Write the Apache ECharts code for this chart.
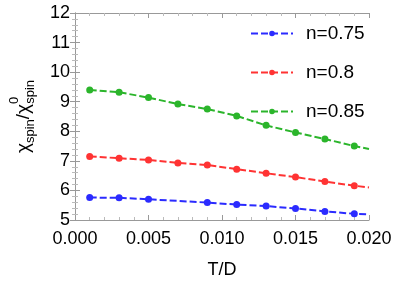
<!DOCTYPE html>
<html><head><meta charset="utf-8">
<script src="https://cdn.jsdelivr.net/npm/echarts@6/dist/echarts.min.js"></script>
<style>html,body{margin:0;padding:0;background:#fff}#c{width:395px;height:284px}</style>
</head><body><div id="c"></div>
<script>
var seriesNames = ['n=0.75', 'n=0.8', 'n=0.85'];
var xBlue = [0.001, 0.003, 0.005, 0.009, 0.011, 0.013, 0.015, 0.017, 0.019, 0.020];
var yBlue = [5.76, 5.75, 5.70, 5.59, 5.52, 5.47, 5.39, 5.29, 5.21, 5.19];
var xRed = [0.001, 0.003, 0.005, 0.007, 0.009, 0.011, 0.013, 0.015, 0.017, 0.019, 0.020];
var yRed = [7.15, 7.09, 7.03, 6.93, 6.86, 6.72, 6.58, 6.45, 6.30, 6.16, 6.10];
var xGreen = [0.001, 0.003, 0.005, 0.007, 0.009, 0.011, 0.013, 0.015, 0.017, 0.019, 0.020];
var yGreen = [9.40, 9.32, 9.14, 8.92, 8.75, 8.52, 8.20, 7.96, 7.74, 7.50, 7.40];
var xTicks = ['0.000', '0.005', '0.010', '0.015', '0.020'];
var colors = ['#2b2bff', '#ff3333', '#2bb52b'];

function mk(xs, ys) {
  return xs.map(function (x, i) {
    // last point is the end of the dashed curve at the frame edge (no marker)
    if (i === xs.length - 1) return { value: [x, ys[i]], symbol: 'none' };
    return [x, ys[i]];
  });
}
var font = 'Liberation Sans, Arial, sans-serif';
var chart = echarts.init(document.getElementById('c'), null, { renderer: 'canvas' });
var frameLine = { show: true, lineStyle: { color: '#999', width: 1 } };
function xAx(pos, labels) {
  return {
    type: 'value', position: pos, min: 0, max: 0.02, interval: 0.005,
    axisLine: frameLine,
    axisTick: { show: true, inside: true, length: 5, lineStyle: { color: '#999' } },
    minorTick: { show: true, splitNumber: 5, length: 3, lineStyle: { color: '#bbb' } },
    splitLine: { show: false },
    axisLabel: labels ? { show: true, color: '#000', fontSize: 18, fontFamily: font, margin: 10,
      formatter: function (v) { return xTicks[Math.round(v / 0.005)]; } } : { show: false },
    name: labels ? 'T/D' : '', nameLocation: 'middle', nameGap: 41,
    nameTextStyle: { color: '#000', fontSize: 18, fontFamily: font }
  };
}
function yAx(pos, labels) {
  return {
    type: 'value', position: pos, min: 5, max: 12, interval: 1,
    axisLine: frameLine,
    axisTick: { show: true, inside: true, length: 5, lineStyle: { color: '#999' } },
    minorTick: { show: true, splitNumber: 5, length: 3, lineStyle: { color: '#bbb' } },
    splitLine: { show: false },
    axisLabel: labels ? { show: true, color: '#000', fontSize: 18, fontFamily: font, margin: 5 } : { show: false },
    name: labels ? '{a|χ}{s|spin}{a|/χ}{t|0}{s2|spin}' : '',
    nameLocation: 'middle', nameGap: 42, nameRotate: 90,
    nameTextStyle: {
      color: '#000', fontFamily: font,
      rich: {
        a: { fontSize: 19, fontFamily: font, color: '#000', verticalAlign: 'bottom', lineHeight: 22 },
        s: { fontSize: 13, fontFamily: font, color: '#000', verticalAlign: 'bottom', lineHeight: 14, padding: [0, 0, -4, 0] },
        t: { fontSize: 13, fontFamily: font, color: '#000', verticalAlign: 'top', lineHeight: 14, padding: [-3, -7, 0, 0] },
        s2: { fontSize: 13, fontFamily: font, color: '#000', verticalAlign: 'bottom', lineHeight: 14, padding: [0, 0, -4, 0] }
      }
    }
  };
}
function ser(i, xs, ys) {
  return {
    name: seriesNames[i], type: 'line', xAxisIndex: 0, yAxisIndex: 0,
    data: mk(xs, ys), symbol: 'circle', symbolSize: 7, showSymbol: true,
    color: colors[i],
    lineStyle: { color: colors[i], width: 2, type: [7, 3] },
    itemStyle: { color: colors[i] },
    animation: false, z: 3 - i
  };
}
chart.setOption({
  animation: false,
  grid: { left: 62, right: 26, top: 13, bottom: 57 },
  xAxis: [xAx('bottom', true), xAx('top', false)],
  yAxis: [yAx('left', true), yAx('right', false)],
  legend: {
    orient: 'vertical', left: 245, top: 19, itemWidth: 42, itemHeight: 7, itemGap: 20,
    data: seriesNames,
    textStyle: { fontSize: 19, fontFamily: font, color: '#000', padding: [0, 0, 0, 8] }
  },
  series: [ser(0, xBlue, yBlue), ser(1, xRed, yRed), ser(2, xGreen, yGreen)]
});
</script></body></html>
